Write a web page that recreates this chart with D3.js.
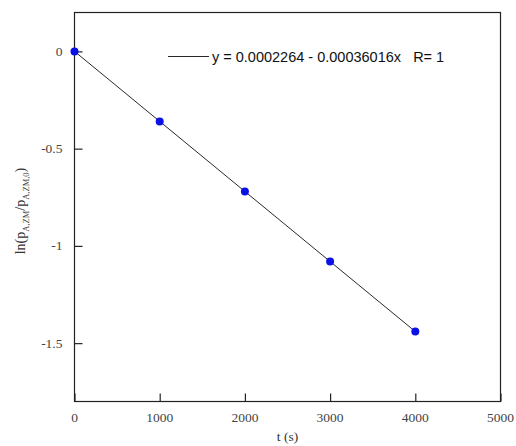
<!DOCTYPE html>
<html>
<head>
<meta charset="utf-8">
<script src="https://cdn.jsdelivr.net/npm/d3@7"></script>
<style>
  body { margin: 0; background: #fff; }
</style>
</head>
<body>
<svg id="chart"></svg>
<script>
// data
const times = [0, 1000, 2000, 3000, 4000];
const lnRatio = [0, -0.36, -0.72, -1.08, -1.44];
const xTicks = [0, 1000, 2000, 3000, 4000, 5000];
const yTicks = [0, -0.5, -1, -1.5];
const fitIntercept = 0.0002264;
const fitSlope = -0.00036016;
const fitRange = [0, 4000];

// drawing constants
const W = 516, H = 446;
const LEFT = 74.5, RIGHT = 500.5, TOP = 12.5, BOTTOM = 401.5;
const TICK = 8;

const svg = d3.select('#chart')
  .attr('width', W)
  .attr('height', H);

const x = d3.scaleLinear().domain([0, 5000]).range([LEFT, RIGHT]);
const y = d3.scaleLinear().domain([-1.8, 0.2]).range([BOTTOM, TOP]);

// frame
svg.append('rect')
  .attr('x', LEFT).attr('y', TOP)
  .attr('width', RIGHT - LEFT).attr('height', BOTTOM - TOP)
  .attr('fill', 'none').attr('stroke', '#222').attr('stroke-width', 1.2);

// axes, ticks pointing inward
const xAxis = svg.append('g')
  .attr('transform', `translate(0,${BOTTOM})`)
  .call(d3.axisTop(x).tickValues(xTicks).tickSize(TICK).tickFormat(''));
const yAxis = svg.append('g')
  .attr('transform', `translate(${LEFT},0)`)
  .call(d3.axisRight(y).tickValues(yTicks).tickSize(TICK).tickFormat(''));
[xAxis, yAxis].forEach(g => {
  g.select('.domain').remove();
  g.selectAll('line').attr('stroke', '#222').attr('stroke-width', 1.2);
});

// tick labels
svg.append('g').selectAll('text').data(xTicks).join('text')
  .attr('x', d => x(d))
  .attr('y', BOTTOM + 20)
  .attr('text-anchor', 'middle')
  .attr('font-family', 'Liberation Serif, serif')
  .attr('font-size', 13.5)
  .attr('fill', '#444')
  .text(d => d);
svg.append('g').selectAll('text').data(yTicks).join('text')
  .attr('x', LEFT - 12)
  .attr('y', d => y(d) + 4.5)
  .attr('text-anchor', 'end')
  .attr('font-family', 'Liberation Serif, serif')
  .attr('font-size', 13.5)
  .attr('fill', '#444')
  .text(d => d);

// axis titles
svg.append('text')
  .attr('x', (LEFT + RIGHT) / 2)
  .attr('y', 441)
  .attr('text-anchor', 'middle')
  .attr('font-family', 'Liberation Serif, serif')
  .attr('font-size', 13.5)
  .attr('fill', '#333')
  .text('t (s)');

const yTitle = svg.append('text')
  .attr('transform', `translate(25,${(TOP + BOTTOM) / 2 + 4}) rotate(-90)`)
  .attr('text-anchor', 'middle')
  .attr('font-family', 'Liberation Serif, serif')
  .attr('font-size', 14)
  .attr('fill', '#333');
yTitle.append('tspan').text('ln(p');
yTitle.append('tspan').attr('font-size', 8.5).attr('dy', 4).text('A,ZM');
yTitle.append('tspan').attr('dy', -4).text('/p');
yTitle.append('tspan').attr('font-size', 8.5).attr('dy', 4).text('A,ZM,0');
yTitle.append('tspan').attr('dy', -4).text(')');

// fit line
const fitLine = d3.line()
  .x(d => x(d))
  .y(d => y(fitIntercept + fitSlope * d));
svg.append('path')
  .attr('d', fitLine(fitRange))
  .attr('fill', 'none')
  .attr('stroke', '#111')
  .attr('stroke-width', 0.9);

// points
svg.append('g').selectAll('circle').data(times).join('circle')
  .attr('cx', d => x(d))
  .attr('cy', (d, i) => y(lnRatio[i]))
  .attr('r', 4)
  .attr('fill', '#0a10e6');

// legend
svg.append('line')
  .attr('x1', 168).attr('x2', 209)
  .attr('y1', 56.5).attr('y2', 56.5)
  .attr('stroke', '#111').attr('stroke-width', 0.9);
svg.append('text')
  .attr('x', 212)
  .attr('y', 62)
  .attr('font-family', 'Liberation Sans, Arial, sans-serif')
  .attr('font-size', 14.5)
  .attr('fill', '#111')
  .attr('xml:space', 'preserve')
  .text('y = 0.0002264 - 0.00036016x   R= 1');
</script>
</body>
</html>
